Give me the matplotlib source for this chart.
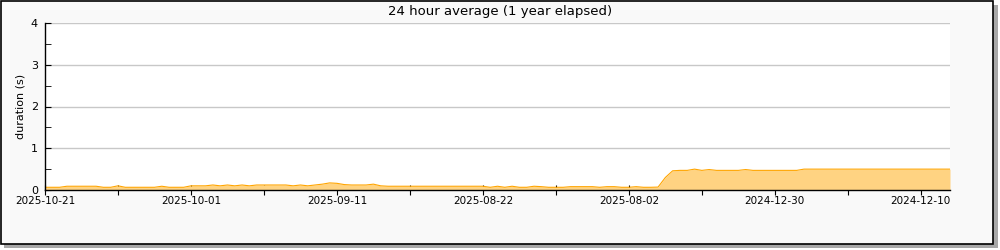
import matplotlib
matplotlib.use('Agg')
import matplotlib.pyplot as plt
from matplotlib.patches import Rectangle
import numpy as np

# one value per day, left to right across the plot
durations = [0.065, 0.065, 0.065, 0.09, 0.09, 0.09, 0.09, 0.09, 0.065, 0.065,
             0.10, 0.065, 0.065, 0.065, 0.065, 0.065, 0.09, 0.065, 0.065, 0.065,
             0.10, 0.10, 0.10, 0.12, 0.10, 0.12, 0.10, 0.12, 0.10, 0.12,
             0.12, 0.12, 0.12, 0.12, 0.10, 0.12, 0.10, 0.12, 0.14, 0.17,
             0.16, 0.13, 0.12, 0.12, 0.12, 0.14, 0.10, 0.09, 0.09, 0.09,
             0.09, 0.09, 0.09, 0.09, 0.09, 0.09, 0.09, 0.09, 0.09, 0.09,
             0.09, 0.065, 0.09, 0.065, 0.09, 0.065, 0.065, 0.09, 0.08, 0.065,
             0.065, 0.065, 0.08, 0.08, 0.08, 0.08, 0.065, 0.08, 0.08, 0.065,
             0.065, 0.08, 0.065, 0.065, 0.07, 0.30, 0.46, 0.47, 0.47, 0.50,
             0.47, 0.49, 0.47, 0.47, 0.47, 0.47, 0.49, 0.47, 0.47, 0.47,
             0.47, 0.47, 0.47, 0.47, 0.50, 0.50, 0.50, 0.50, 0.50, 0.50,
             0.50, 0.50, 0.50, 0.50, 0.50, 0.50, 0.50, 0.50, 0.50, 0.50,
             0.50, 0.50, 0.50, 0.50, 0.50]
tick_labels = ['2025-10-21', '', '2025-10-01', '', '2025-09-11', '', '2025-08-22', '',
               '2025-08-02', '', '2024-12-30', '', '2024-12-10']

days = np.arange(len(durations))

fig = plt.figure(figsize=(10, 2.5), dpi=100)
fig.patch.set_facecolor('white')
# shadow + frame
fig.patches.append(Rectangle((4/1000, 2/250), 994/1000, 243/250, transform=fig.transFigure,
                             facecolor='#a8a8a8', edgecolor='none', zorder=-3))
fig.patches.append(Rectangle((1/1000, 6/250), 992/1000, 243/250, transform=fig.transFigure,
                             facecolor='#f9f9f9', edgecolor='black', linewidth=1.2, zorder=-2))

ax = fig.add_axes([45/1000, 60/250, 905/1000, 167/250])
ax.set_facecolor('white')
ax.fill_between(days, durations, color='#ffd382', linewidth=0)
ax.plot(days, durations, color='#ffa500', linewidth=0.8)

ax.set_xlim(0, len(durations) - 1)
ax.set_ylim(0, 4)
ax.set_yticks([0, 1, 2, 3, 4])
ax.set_yticks(np.arange(0.5, 4, 1), minor=True)
ax.set_xticks(np.arange(0, 121, 10))
ax.set_xticklabels(tick_labels)
ax.grid(axis='y', color='#c8c8c8', linewidth=1)
ax.set_axisbelow(True)

for s in ['top', 'right']:
    ax.spines[s].set_visible(False)
ax.spines['left'].set_linewidth(1)
ax.spines['bottom'].set_linewidth(1)
ax.tick_params(axis='y', which='both', direction='in', length=4, labelsize=8, pad=5)
ax.tick_params(axis='x', direction='inout', length=7, labelsize=7.5, pad=1)

ax.set_ylabel('duration (s)', fontsize=8, labelpad=4)
fig.text(0.5, 1 - 11/250, '24 hour average (1 year elapsed)', ha='center', va='center', fontsize=9.5)

fig.savefig('out.png', dpi=100)
